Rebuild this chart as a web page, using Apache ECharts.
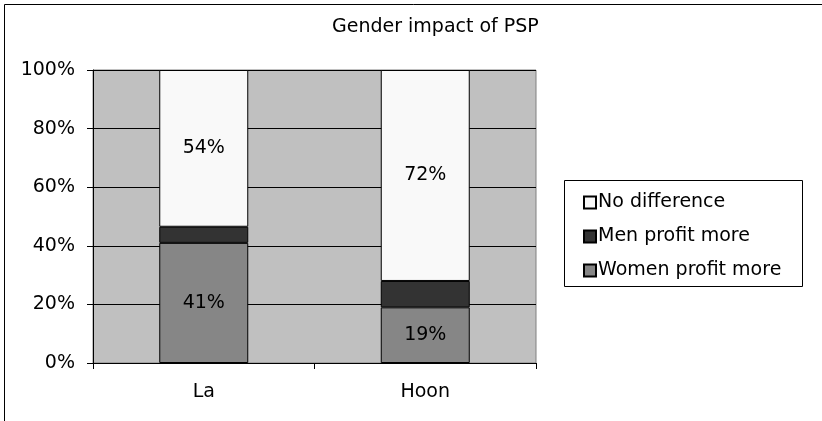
<!DOCTYPE html>
<html>
<head>
<meta charset="utf-8">
<script src="https://cdn.jsdelivr.net/npm/echarts@6/dist/echarts.min.js"></script>
<style>
html, body { margin: 0; padding: 0; background: #fff; }
#chart-container { width: 822px; height: 421px; }
</style>
</head>
<body>
<div id="chart-container"></div>
<script>
// 資料
var chartTitle = 'Gender impact of PSP';
var categories = ['La', 'Hoon'];
var womenMore = [41, 19];
var menMore = [5.5, 9];
var noDifference = [53.5, 72];
var legendOrder = ['No difference', 'Men profit more', 'Women profit more'];

var FONT = 'DejaVu Sans';
var FS = 19;

var chart = echarts.init(document.getElementById('chart-container'));

function pct(p) { return Math.round(p.value) + '%'; }

var option = {
    animation: false,
    textStyle: { fontFamily: FONT },
    title: { // 標題
        text: chartTitle,
        left: 332,
        top: 18,
        padding: 0,
        textStyle: { fontFamily: FONT, fontSize: FS, fontWeight: 'normal', color: '#000' }
    },
    graphic: [{ // 外框 + 圖例框
        type: 'rect',
        shape: { x: 4.5, y: 4.5, width: 830, height: 430 },
        style: { fill: 'none', stroke: '#000', lineWidth: 1 },
        silent: true
    }, {
        type: 'rect',
        shape: { x: 564.5, y: 180.5, width: 238, height: 106 },
        style: { fill: '#fff', stroke: '#000', lineWidth: 1 },
        z: -1,
        silent: true
    }],
    legend: {
        orient: 'vertical',
        left: 583,
        top: 193,
        padding: 0,
        icon: 'rect',
        itemWidth: 12,
        itemHeight: 12,
        itemGap: 15,
        data: legendOrder,
        textStyle: { fontFamily: FONT, fontSize: FS, color: '#000', padding: [0, 0, 0, -3] }
    },
    grid: {
        left: 93,
        right: 286,
        top: 70,
        bottom: 58,
        show: true,
        backgroundColor: '#c0c0c0',
        borderColor: '#808080',
        borderWidth: 1
    },
    xAxis: {
        type: 'category',
        data: categories,
        axisLine: { lineStyle: { color: '#000' } },
        axisTick: { show: true, length: 6, lineStyle: { color: '#000' } },
        axisLabel: { fontFamily: FONT, fontSize: FS, color: '#000', margin: 20 }
    },
    yAxis: {
        type: 'value',
        min: 0,
        max: 100,
        interval: 20,
        axisLine: { show: true, lineStyle: { color: '#000' } },
        axisTick: { show: true, length: 6, lineStyle: { color: '#000' } },
        axisLabel: { fontFamily: FONT, fontSize: FS, color: '#000', margin: 18, formatter: '{value}%' },
        splitLine: { lineStyle: { color: '#000' } }
    },
    series: [{
            name: 'Women profit more',
            type: 'bar',
            stack: 'total',
            barWidth: 89,
            data: womenMore,
            itemStyle: { color: '#868686', borderColor: '#000', borderWidth: 1 },
            label: { show: true, position: 'inside', formatter: pct, fontFamily: FONT, fontSize: FS, color: '#000' }
        },
        {
            name: 'Men profit more',
            type: 'bar',
            stack: 'total',
            barWidth: 89,
            data: menMore,
            itemStyle: { color: '#333333', borderColor: '#000', borderWidth: 1 }
        },
        {
            name: 'No difference',
            type: 'bar',
            stack: 'total',
            barWidth: 89,
            data: noDifference,
            itemStyle: { color: '#f9f9f9', borderColor: '#000', borderWidth: 1 },
            label: { show: true, position: 'inside', formatter: pct, fontFamily: FONT, fontSize: FS, color: '#000' }
        }
    ]
};

chart.setOption(option);
</script>
</body>
</html>
